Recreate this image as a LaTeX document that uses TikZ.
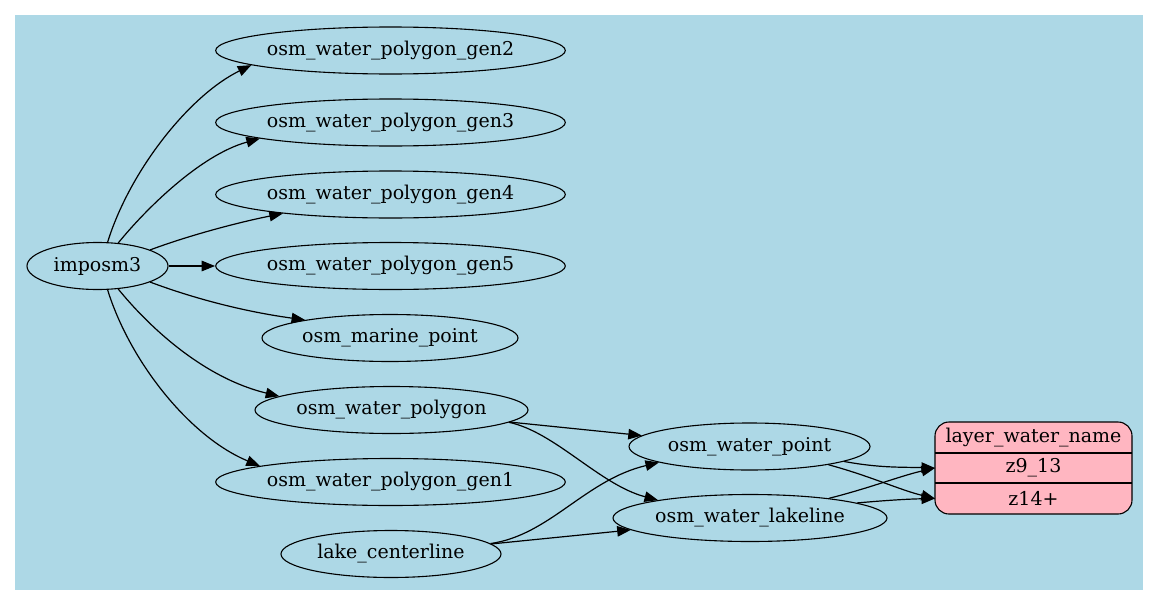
\documentclass[tikz,border=0pt]{standalone}
\usepackage{fontspec}
\setmainfont{DejaVu Serif}
\usetikzlibrary{shapes.geometric,arrows.meta}
\definecolor{bgblue}{HTML}{ADD8E6}
\definecolor{recpink}{HTML}{FFB6C1}
\tikzset{
  ell/.style={draw, ellipse, line width=1.1pt, inner sep=0pt, minimum height=47pt, font=\fontsize{19}{22}\selectfont},
  edge/.style={line width=1.2pt, -{Triangle[length=13.5pt,width=10.5pt]}},
  rectxt/.style={inner sep=0pt, font=\fontsize{19}{22}\selectfont},
}
\begin{document}
\begin{tikzpicture}[x=1pt,y=-1pt]
\useasboundingbox (0,0) rectangle (1159,605);
\fill[bgblue] (15,15) rectangle (1143,590);
% nodes
\node[ell, minimum width=141pt] (imposm) at (97.5,266) {imposm3};
\node[ell, minimum width=349pt] (g2) at (390.5,50.5) {osm\_water\_polygon\_gen2};
\node[ell, minimum width=349pt] (g3) at (390.5,122.5) {osm\_water\_polygon\_gen3};
\node[ell, minimum width=349pt] (g4) at (390.5,194.5) {osm\_water\_polygon\_gen4};
\node[ell, minimum width=349pt] (g5) at (390.5,266) {osm\_water\_polygon\_gen5};
\node[ell, minimum width=256pt] (marine) at (390,338) {osm\_marine\_point};
\node[ell, minimum width=273pt] (wpoly) at (391.5,410) {osm\_water\_polygon};
\node[ell, minimum width=349pt] (g1) at (390.5,482) {osm\_water\_polygon\_gen1};
\node[ell, minimum width=220pt] (lake) at (391,554) {lake\_centerline};
\node[ell, minimum width=241pt] (wpoint) at (749.5,446.5) {osm\_water\_point};
\node[ell, minimum width=274pt] (lakeline) at (750,518) {osm\_water\_lakeline};
% record
\node[draw, fill=recpink, rounded corners=14pt, line width=1.1pt, minimum width=197pt, minimum height=92pt, inner sep=0pt] (rec) at (1033.5,468) {};
\draw[line width=1.1pt] (935,453) -- (1132,453);
\draw[line width=1.1pt] (935,483) -- (1132,483);
\node[rectxt] (rtitle) at (1033.5,437.5) {layer\_water\_name};
\node[rectxt] (rz9) at (1033.5,468) {z9\_13};
\node[rectxt] (rz14) at (1033.5,498.5) {z14+};
\coordinate (p9) at (935,468);
\coordinate (p14) at (935,498.5);
% edges
\draw[edge] (imposm.67.6) .. controls (130,170) and (190,95) .. (g2.186.7);
\draw[edge] (imposm.48.3) .. controls (145,210) and (200,155) .. (g3.187.6);
\draw[edge] (imposm.17.9) .. controls (190,235) and (240,222) .. (g4.190.2);
\draw[edge] (imposm) -- (g5);
\draw[edge] (imposm.-17.9) .. controls (190,297) and (240,311) .. (marine.168);
\draw[edge] (imposm.-48.3) .. controls (145,322) and (200,377) .. (wpoly.173.5);
\draw[edge] (imposm.-67.6) .. controls (130,362) and (190,437) .. (g1.173.1);
\draw[edge] (wpoly) -- (wpoint);
\draw[edge] (wpoly.-6.8) .. controls (555,432) and (600,485) .. (lakeline.169);
\draw[edge] (lake.6.5) .. controls (550,535) and (585,480) .. (wpoint.190.4);
\draw[edge] (lake) -- (lakeline);
\draw[edge] (wpoint.-9.2) .. controls (880,468) and (900,467) .. (p9);
\draw[edge] (wpoint.-13.4) .. controls (870,476) and (900,490) .. (p14);
\draw[edge] (lakeline.14) .. controls (870,488) and (900,476) .. (p9);
\draw[edge] (lakeline.8.9) .. controls (890,500) and (910,499) .. (p14);
\end{tikzpicture}
\end{document}
